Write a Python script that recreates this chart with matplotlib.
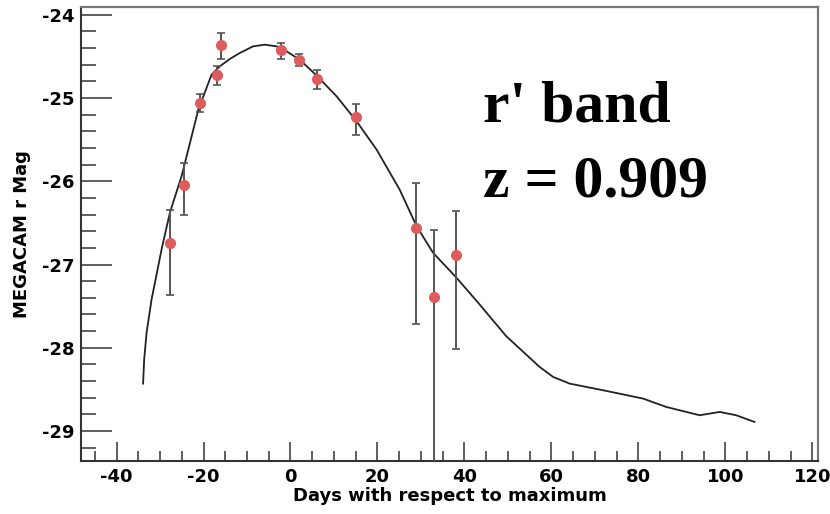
import matplotlib
matplotlib.use("Agg")
import matplotlib.pyplot as plt
from matplotlib.ticker import MultipleLocator

plt.rcParams["axes.unicode_minus"] = False

# observed points
obs_days = [-27.7, -24.6, -20.85, -16.9, -15.9, -2.1, 1.98, 6.1, 15.0, 28.97, 32.9, 38.0]
obs_mag = [-26.74, -26.05, -25.06, -24.73, -24.36, -24.42, -24.54, -24.77, -25.23, -26.56, -27.39, -26.89]
err_up = [0.39, 0.27, 0.11, 0.11, 0.14, 0.08, 0.07, 0.10, 0.16, 0.54, 0.80, 0.53]
err_down = [0.63, 0.36, 0.11, 0.12, 0.17, 0.11, 0.08, 0.12, 0.22, 1.16, 3.00, 1.12]

# template curve
tpl_days = [-33.9, -33.65, -33.1, -31.95, -29.65, -27.75, -25.06, -23.5, -21.2, -18.15,
            -16.25, -13.9, -11.65, -8.6, -5.9, -3.2, -0.9, 2.1, 6.0, 10.6, 15.2, 19.8, 25.1,
            29.0, 32.8, 38.2, 43.5, 49.6, 57.3, 60.4, 64.2, 71.9, 81.1, 86.4, 94.1, 98.7,
            102.5, 106.7]
tpl_mag = [-28.43, -28.14, -27.82, -27.42, -26.82, -26.38, -25.94, -25.62, -25.14, -24.72,
           -24.62, -24.53, -24.46, -24.38, -24.36, -24.38, -24.44, -24.54, -24.73, -24.98,
           -25.28, -25.62, -26.10, -26.54, -26.86, -27.16, -27.48, -27.86, -28.23, -28.35,
           -28.43, -28.51, -28.61, -28.71, -28.81, -28.77, -28.81, -28.89]

fig = plt.figure(figsize=(8.3, 5.14), dpi=100)
ax = fig.add_axes([0.098, 0.103, 0.888, 0.883])

ax.plot(tpl_days, tpl_mag, color="#222222", lw=1.3, zorder=2)
ax.errorbar(obs_days, obs_mag, yerr=[err_down, err_up], fmt="o", color="#dd5c5c",
            ms=7, ecolor="#555555", elinewidth=1.4, capsize=3, capthick=1.2, zorder=3)

ax.set_xlim(-48.1, 121.4)
ax.set_ylim(-29.36, -23.91)
ax.xaxis.set_major_locator(MultipleLocator(20))
ax.xaxis.set_minor_locator(MultipleLocator(5))
ax.yaxis.set_major_locator(MultipleLocator(1))
ax.yaxis.set_minor_locator(MultipleLocator(0.2))
ax.tick_params(which="both", direction="in", top=False, right=False,
               color="#444444", width=1.2, labelsize=13)
ax.tick_params(axis="y", which="major", length=22, pad=5)
ax.tick_params(axis="y", which="minor", length=11)
ax.tick_params(axis="x", which="major", length=14, pad=5)
ax.tick_params(axis="x", which="minor", length=7)
for lab in ax.get_xticklabels() + ax.get_yticklabels():
    lab.set_fontfamily("DejaVu Sans")
    lab.set_fontweight("bold")

for side in ["left", "bottom"]:
    ax.spines[side].set_color("#333333")
    ax.spines[side].set_linewidth(1.5)
for side in ["top", "right"]:
    ax.spines[side].set_color("#777777")
    ax.spines[side].set_linewidth(1.6)

ax.set_xlabel("Days with respect to maximum", fontfamily="DejaVu Sans",
              fontweight="bold", fontsize=13, labelpad=1)
ax.set_ylabel("MEGACAM r Mag", fontfamily="DejaVu Sans",
              fontweight="bold", fontsize=13, labelpad=8)

ax.text(0.545, 0.748, "r' band", transform=ax.transAxes, va="baseline",
        fontfamily="Liberation Serif", fontweight="bold", fontsize=43)
ax.text(0.545, 0.583, "z = 0.909", transform=ax.transAxes, va="baseline",
        fontfamily="Liberation Serif", fontweight="bold", fontsize=43)

fig.savefig("out.png", dpi=100)
